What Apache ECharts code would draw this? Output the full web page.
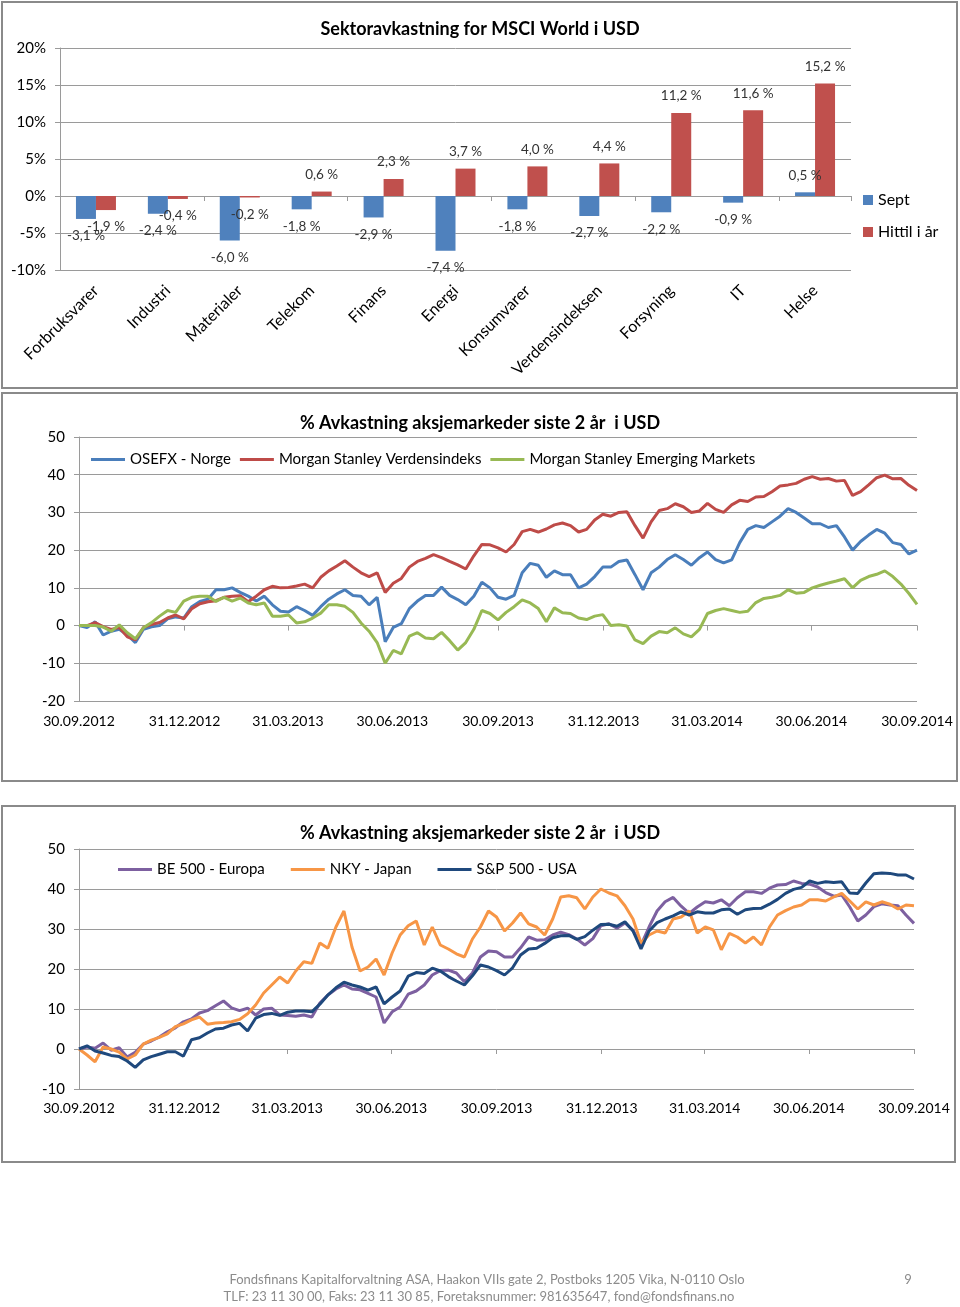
<!DOCTYPE html>
<html><head><meta charset="utf-8">
<script src="https://cdn.jsdelivr.net/npm/echarts@6/dist/echarts.min.js"></script>
<style>html,body{margin:0;padding:0;background:#fff}#c{width:960px;height:1307px}</style>
</head><body><div id="c"></div><script>
// ---------- Chart 1: sector returns ----------
const sectors = ['Forbruksvarer','Industri','Materialer','Telekom','Finans','Energi','Konsumvarer','Verdensindeksen','Forsyning','IT','Helse'];
const septValues = [-3.1,-2.4,-6.0,-1.8,-2.9,-7.4,-1.8,-2.7,-2.2,-0.9,0.5];
const ytdValues = [-1.9,-0.4,-0.2,0.6,2.3,3.7,4.0,4.4,11.2,11.6,15.2];

// ---------- Charts 2 & 3: 2-year returns (approx. weekly readings) ----------
const startDate = '2012-09-30';
const endDate = '2014-09-30';
const dateTickLabels = ['30.09.2012','31.12.2012','31.03.2013','30.06.2013','30.09.2013','31.12.2013','31.03.2014','30.06.2014','30.09.2014'];

const osefx = [0,-0.5,1.0,-2.5,-1.5,-1.0,-2.5,-4.5,-1.0,-0.3,
  0.0,1.8,2.3,2.0,5.0,6.4,7.0,9.5,9.5,10.0,
  8.8,7.8,6.5,7.8,5.5,3.8,3.6,5.0,4.0,2.7,
  5.0,7.0,8.4,9.5,8.0,7.8,5.5,7.5,-4.3,-0.5,
  0.5,4.5,6.5,8.0,8.0,10.2,8.0,6.9,5.5,7.8,
  11.5,10.0,7.5,7.0,8.0,14.0,16.5,16.0,12.8,14.5,
  13.5,13.5,10.0,11.0,13.0,15.5,15.5,17.0,17.4,13.5,
  9.5,14.0,15.5,17.5,18.8,17.5,16.0,18.0,19.5,17.5,
  16.6,17.4,22.0,25.5,26.5,26.0,27.5,29.0,31.0,30.0,
  28.5,27.0,27.0,26.0,26.5,23.5,20.0,22.3,24.0,25.5,
  24.5,22.0,21.5,19.0,20.0];
const msWorld = [0,0.0,0.8,-0.3,-1.0,-0.5,-3.0,-3.8,-0.5,0.3,
  0.8,2.0,2.8,1.8,4.5,5.8,6.3,6.6,7.5,7.8,
  7.9,6.3,7.8,9.5,10.4,10.0,10.1,10.5,11.0,10.0,
  12.8,14.5,15.8,17.2,15.5,14.0,13.0,14.0,8.8,11.2,
  12.5,15.5,17.0,17.8,18.8,18.0,17.0,16.1,15.0,18.5,
  21.5,21.4,20.6,19.5,21.5,24.9,25.5,24.8,25.6,26.7,
  27.2,26.5,24.8,25.5,28.0,29.5,29.0,30.0,30.2,26.5,
  23.2,27.5,30.5,31.0,32.3,31.5,30.0,30.4,32.4,30.8,
  30.0,32.0,33.2,32.9,34.1,34.2,35.5,37.0,37.3,37.7,
  38.8,39.5,38.8,39.0,38.3,38.5,34.5,35.5,37.3,39.2,
  39.9,38.9,39.0,37.2,35.8];
const msEmerging = [0,0.0,0.0,-0.4,-1.5,0.2,-1.9,-3.5,-0.6,0.8,
  2.5,4.0,3.5,6.5,7.5,7.8,7.8,6.4,7.5,6.5,
  7.3,6.0,5.5,6.0,2.5,2.5,2.8,0.7,1.0,2.0,
  3.3,5.5,5.5,5.1,3.5,0.7,-1.5,-4.5,-10.0,-6.6,
  -7.5,-2.8,-1.9,-3.3,-3.5,-1.8,-4.0,-6.5,-4.5,-1.0,
  4.0,3.2,1.5,3.5,5.0,6.8,6.0,4.5,1.0,4.7,
  3.4,3.2,2.0,1.6,2.5,2.9,0.0,0.2,-0.1,-3.8,
  -4.8,-2.8,-1.6,-1.9,-0.6,-2.2,-3.0,-1.0,3.2,4.0,
  4.5,4.0,3.5,3.8,6.1,7.2,7.5,8.0,9.5,8.6,
  8.8,10.0,10.7,11.3,11.8,12.4,10.0,12.0,13.0,13.6,
  14.5,13.0,11.0,8.5,5.6];
const be500 = [0,0.5,0.2,1.5,-0.3,0.3,-2.0,-0.8,1.2,2.0,
  3.0,4.3,5.3,6.8,7.5,9.0,9.6,10.8,12.0,10.3,
  9.6,10.2,8.5,10.0,10.2,8.5,8.4,8.2,8.5,8.0,
  11.5,13.5,15.0,16.0,15.0,14.8,13.9,13.0,6.5,9.3,
  10.5,13.7,14.5,16.0,18.5,19.6,19.7,19.0,16.8,19.0,
  23.0,24.5,24.3,23.0,23.0,25.3,28.0,27.2,27.3,28.5,
  29.2,28.6,27.5,26.0,27.6,30.8,31.3,30.2,31.5,29.7,
  26.0,30.5,34.5,36.8,37.9,35.7,33.9,35.5,36.8,36.5,
  37.3,35.8,37.8,39.3,39.3,38.9,40.2,41.0,41.1,42.0,
  41.4,41.2,40.5,39.1,38.2,38.5,35.5,32.0,33.5,35.6,
  36.3,36.0,35.8,33.5,31.4];
const nky = [0,-1.5,-3.2,0.5,0.0,-0.8,-2.5,-1.5,1.2,2.2,
  2.9,3.8,5.6,6.3,7.3,8.0,6.2,6.5,6.6,6.8,
  7.4,8.8,11.0,14.0,16.0,18.0,16.5,19.5,21.8,21.4,
  26.5,25.2,30.5,34.5,25.5,19.5,20.5,22.5,18.5,24.0,
  28.5,30.8,32.0,26.0,30.5,26.0,25.0,23.8,23.0,27.5,
  30.5,34.5,33.0,29.5,31.5,34.0,31.3,30.5,28.5,32.5,
  38.0,38.3,37.8,35.0,38.0,40.0,39.0,38.3,35.8,32.5,
  26.5,28.5,29.5,29.0,32.5,33.0,34.5,29.0,30.5,29.8,
  24.8,28.9,28.0,26.5,28.0,26.0,30.5,33.5,34.6,35.5,
  36.0,37.3,37.3,37.0,38.0,38.9,37.0,35.0,36.8,36.0,
  36.8,36.2,35.0,36.0,35.8];
const sp500 = [0,0.8,-0.5,-1.0,-1.6,-1.9,-3.0,-4.6,-2.7,-1.9,
  -1.3,-0.7,-0.7,-1.8,2.3,2.8,4.0,5.0,5.2,6.0,
  6.4,4.5,7.7,8.6,8.9,8.4,9.2,9.5,9.5,9.3,
  11.2,13.5,15.3,16.7,16.0,15.5,14.7,15.5,11.3,13.0,
  14.5,18.2,19.1,18.9,20.2,19.5,18.1,17.0,16.0,18.3,
  21.0,20.5,19.6,18.5,20.3,23.5,25.0,25.2,26.4,27.8,
  28.3,28.4,27.4,28.1,29.7,31.1,31.2,30.7,31.8,29.5,
  25.0,29.5,31.6,32.5,33.3,34.3,33.5,34.3,34.0,34.0,
  34.8,35.0,33.7,34.8,35.1,35.2,36.2,37.4,38.9,39.9,
  40.4,42.0,41.4,41.8,41.6,41.8,39.0,38.9,41.5,43.8,
  44.0,43.9,43.5,43.5,42.5];

// ---------- helpers ----------
const FONT = 'Lato, "Liberation Sans", sans-serif';
const GRID_COLOR = '#9a9a9a';
function parseTick(s){ const [d,m,y] = s.split('.').map(Number); return Date.UTC(y, m-1, d); }
const tickTimes = dateTickLabels.map(parseTick);
const t0 = Date.parse(startDate + 'T00:00:00Z');
const t1 = Date.parse(endDate + 'T00:00:00Z');
const sampleTimes = osefx.map((_, i) => t0 + (t1 - t0) * i / (osefx.length - 1));
const toPairs = arr => arr.map((v, i) => [sampleTimes[i], v]);
function tickLabel(v){
  let best = 0, bd = Infinity;
  tickTimes.forEach((t, k) => { const d = Math.abs(t - v); if (d < bd) { bd = d; best = k; } });
  return bd < 86400000 ? dateTickLabels[best] : '';
}
const fmtPct = v => v.toFixed(1).replace('.', ',') + ' %';
const barItems = arr => arr.map(v => ({ value: v, label: { position: v < 0 ? 'bottom' : 'top' } }));

function valueY(grid, min, max, interval, fmt){
  return { gridIndex: grid, type: 'value', min, max, interval,
    axisLine: { show: true, lineStyle: { color: GRID_COLOR, width: 1 } },
    axisTick: { show: true, length: 5, lineStyle: { color: GRID_COLOR } },
    axisLabel: { fontSize: 15, color: '#000', margin: 14, fontFamily: FONT, formatter: fmt || '{value}' },
    splitLine: { lineStyle: { color: GRID_COLOR, width: 1 } } };
}
function dateAxes(grid, labelMargin){
  return [
    { gridIndex: grid, type: 'value', min: t0, max: t1, position: 'bottom', scale: true,
      axisLine: { show: false, onZero: false }, axisTick: { show: false }, splitLine: { show: false },
      axisLabel: { customValues: tickTimes, formatter: v => tickLabel(v), fontSize: 14, color: '#000',
        margin: labelMargin, fontFamily: FONT, hideOverlap: false } },
    { gridIndex: grid, type: 'value', min: t0, max: t1, position: 'bottom', scale: true,
      axisLine: { show: true, onZero: true, lineStyle: { color: GRID_COLOR } },
      axisTick: { show: true, customValues: tickTimes, length: 5, lineStyle: { color: GRID_COLOR } },
      axisLabel: { show: false }, splitLine: { show: false } }
  ];
}
function lineSeries(name, data, color, xi, yi){
  return { name, type: 'line', data: toPairs(data), xAxisIndex: xi, yAxisIndex: yi,
    showSymbol: false, symbol: 'none', lineStyle: { color, width: 3 }, itemStyle: { color } };
}

const chart = echarts.init(document.getElementById('c'), null, { renderer: 'canvas' });
const titleStyle = { fontSize: 18, fontWeight: 'bold', color: '#000', fontFamily: FONT };
const barLabel = { show: true, distance: 10, fontSize: 13.5, color: '#333', fontFamily: FONT, formatter: p => fmtPct(p.value) };

chart.setOption({
  animation: false,
  backgroundColor: '#fff',
  textStyle: { fontFamily: FONT },
  title: [
    { text: 'Sektoravkastning for MSCI World i USD', left: 'center', top: 15, textStyle: titleStyle },
    { text: '% Avkastning aksjemarkeder siste 2 år  i USD', left: 'center', top: 409, textStyle: titleStyle },
    { text: '% Avkastning aksjemarkeder siste 2 år  i USD', left: 'center', top: 819, textStyle: titleStyle }
  ],
  legend: [
    { data: ['Sept', 'Hittil i år'], orient: 'vertical', left: 858, top: 187, icon: 'rect',
      itemWidth: 10, itemHeight: 10, itemGap: 16, textStyle: { fontSize: 16, color: '#000', fontFamily: FONT } },
    { data: ['OSEFX - Norge', 'Morgan Stanley Verdensindeks', 'Morgan Stanley Emerging Markets'],
      left: 86, top: 447, icon: 'rect', itemWidth: 34, itemHeight: 3, itemGap: 9,
      textStyle: { fontSize: 15, color: '#000', fontFamily: FONT } },
    { data: ['BE 500 - Europa', 'NKY - Japan', 'S&P 500 - USA'],
      left: 113, top: 857, icon: 'rect', itemWidth: 34, itemHeight: 3, itemGap: 26,
      textStyle: { fontSize: 15, color: '#000', fontFamily: FONT } }
  ],
  grid: [
    { left: 60, top: 48, width: 791, height: 222 },
    { left: 79, top: 437, width: 838, height: 264 },
    { left: 79, top: 849, width: 835, height: 240 }
  ],
  xAxis: [
    { gridIndex: 0, type: 'category', data: sectors, position: 'bottom',
      axisLine: { show: false, onZero: false }, axisTick: { show: false },
      axisLabel: { interval: 0, rotate: 45, margin: 18, fontSize: 16, color: '#000', fontFamily: FONT } },
    { gridIndex: 0, type: 'category', data: sectors, position: 'bottom',
      axisLine: { show: true, onZero: true, lineStyle: { color: GRID_COLOR } },
      axisTick: { show: true, length: 5, lineStyle: { color: GRID_COLOR } },
      axisLabel: { show: false } },
    ...dateAxes(1, 13),
    ...dateAxes(2, 12)
  ],
  yAxis: [
    valueY(0, -10, 20, 5, '{value}%'),
    valueY(1, -20, 50, 10),
    valueY(2, -10, 50, 10)
  ],
  series: [
    { name: 'Sept', type: 'bar', xAxisIndex: 0, yAxisIndex: 0, data: barItems(septValues),
      barWidth: 20, barGap: '0%', itemStyle: { color: '#4F81BD' }, label: barLabel },
    { name: 'Hittil i år', type: 'bar', xAxisIndex: 0, yAxisIndex: 0, data: barItems(ytdValues),
      barWidth: 20, barGap: '0%', itemStyle: { color: '#C0504D' }, label: barLabel },
    lineSeries('OSEFX - Norge', osefx, '#4A7EBB', 2, 1),
    lineSeries('Morgan Stanley Verdensindeks', msWorld, '#BE4B48', 2, 1),
    lineSeries('Morgan Stanley Emerging Markets', msEmerging, '#98B954', 2, 1),
    lineSeries('BE 500 - Europa', be500, '#7D60A0', 4, 2),
    lineSeries('NKY - Japan', nky, '#F79646', 4, 2),
    lineSeries('S&P 500 - USA', sp500, '#1F497D', 4, 2)
  ],
  graphic: [
    { type: 'rect', shape: { x: 2, y: 2, width: 955, height: 386 }, style: { fill: 'none', stroke: '#8a8a8a', lineWidth: 2 }, silent: true },
    { type: 'rect', shape: { x: 2, y: 393, width: 955, height: 388 }, style: { fill: 'none', stroke: '#8a8a8a', lineWidth: 2 }, silent: true },
    { type: 'rect', shape: { x: 2, y: 806, width: 953, height: 356 }, style: { fill: 'none', stroke: '#8a8a8a', lineWidth: 2 }, silent: true },
    { type: 'text', x: 487, y: 1280, style: { text: 'Fondsfinans Kapitalforvaltning ASA, Haakon VIIs gate 2, Postboks 1205 Vika, N-0110 Oslo',
      fontSize: 13, fontFamily: FONT, fill: '#8c8c8c', align: 'center', verticalAlign: 'middle' } },
    { type: 'text', x: 479, y: 1297, style: { text: 'TLF: 23 11 30 00, Faks: 23 11 30 85, Foretaksnummer: 981635647, fond@fondsfinans.no',
      fontSize: 13, fontFamily: FONT, fill: '#8c8c8c', align: 'center', verticalAlign: 'middle' } },
    { type: 'text', x: 908, y: 1280, style: { text: '9', fontSize: 13, fontFamily: FONT, fill: '#8c8c8c', align: 'center', verticalAlign: 'middle' } }
  ]
});
</script></body></html>
